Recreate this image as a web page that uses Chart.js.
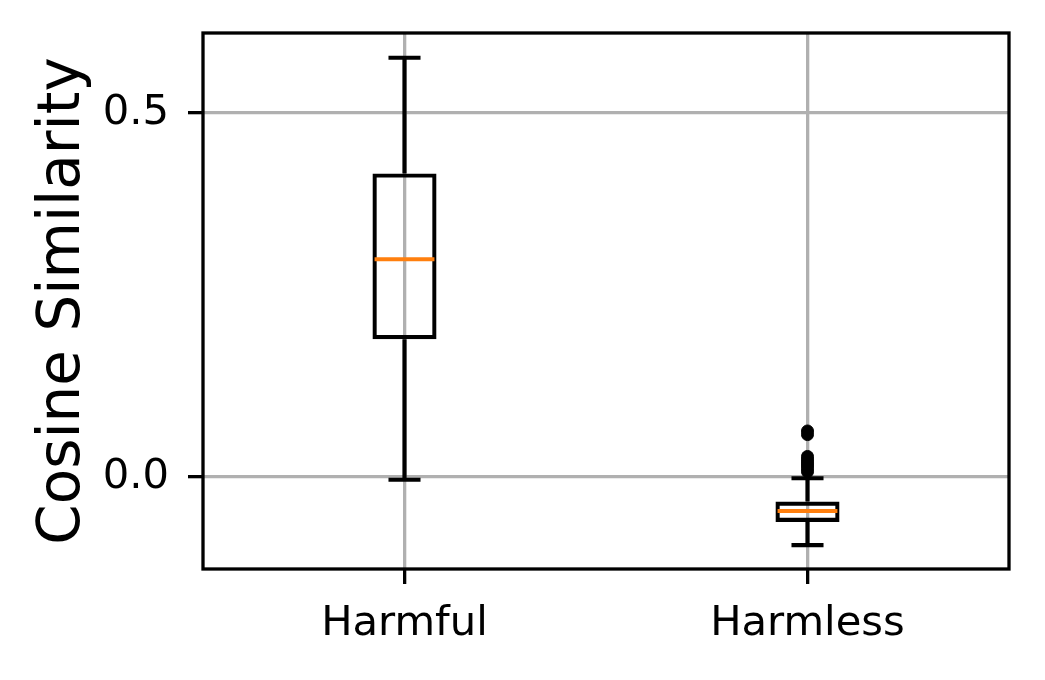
<!DOCTYPE html>
<html>
<head>
<meta charset="utf-8">
<script src="https://cdn.jsdelivr.net/npm/chart.js@4/dist/chart.umd.min.js"></script>
<style>
  html, body { margin: 0; padding: 0; background: #ffffff; }
  #wrap { width: 1045px; height: 680px; position: relative; }
</style>
</head>
<body>
<div id="wrap"><canvas id="c" width="1045" height="680"></canvas></div>
<script>
// ---- data ----
const categories = ['Harmful', 'Harmless'];
const whiskerLow  = [-0.004, -0.094];
const q1Values    = [0.189, -0.062];
const medianVals  = [0.299, -0.047];
const q3Values    = [0.417, -0.034];
const whiskerHigh = [0.576, -0.002];
const outliersHarmful  = [];
const outliersHarmless = [0.063, 0.058, 0.028, 0.024, 0.021, 0.018, 0.015, 0.011, 0.007];
const yTickValues = [0.0, 0.5];
const yMin = -0.1267, yMax = 0.610;

const FONT = 'DejaVu Sans';
const LW = 4.2;

const boxData = categories.map((c, i) => [q1Values[i], q3Values[i]]);
const outlierPoints = []
  .concat(outliersHarmful.map(v => ({x: categories[0], y: v})))
  .concat(outliersHarmless.map(v => ({x: categories[1], y: v})));

const boxPlugin = {
  id: 'boxParts',
  beforeDatasetsDraw(chart) {
    const ctx = chart.ctx, xs = chart.scales.x, ys = chart.scales.y;
    ctx.save();
    ctx.strokeStyle = '#000';
    ctx.lineWidth = LW;
    ctx.lineCap = 'butt';
    categories.forEach((c, i) => {
      const x = xs.getPixelForValue(i);
      const bar = chart.getDatasetMeta(0).data[i];
      const capHalf = bar.width / 4;
      const pLo = ys.getPixelForValue(whiskerLow[i]);
      const pHi = ys.getPixelForValue(whiskerHigh[i]);
      const p1 = ys.getPixelForValue(q1Values[i]);
      const p3 = ys.getPixelForValue(q3Values[i]);
      ctx.beginPath();
      ctx.moveTo(x, p1); ctx.lineTo(x, pLo);
      ctx.moveTo(x, p3); ctx.lineTo(x, pHi);
      ctx.moveTo(x - capHalf, pLo); ctx.lineTo(x + capHalf, pLo);
      ctx.moveTo(x - capHalf, pHi); ctx.lineTo(x + capHalf, pHi);
      ctx.stroke();
    });
    ctx.restore();
  },
  afterDatasetsDraw(chart) {
    const ctx = chart.ctx, xs = chart.scales.x, ys = chart.scales.y;
    ctx.save();
    ctx.strokeStyle = '#ff7f0e';
    ctx.lineWidth = LW;
    categories.forEach((c, i) => {
      const x = xs.getPixelForValue(i);
      const bar = chart.getDatasetMeta(0).data[i];
      const half = bar.width / 2 - LW / 2;
      const pm = ys.getPixelForValue(medianVals[i]);
      ctx.beginPath();
      ctx.moveTo(x - half, pm); ctx.lineTo(x + half, pm);
      ctx.stroke();
    });
    // axes frame (spines)
    const a = chart.chartArea;
    ctx.strokeStyle = '#000';
    ctx.lineWidth = 3.3;
    ctx.strokeRect(a.left, a.top, a.right - a.left, a.bottom - a.top);
    ctx.restore();
  }
};

new Chart(document.getElementById('c'), {
  type: 'bar',
  data: {
    labels: categories,
    datasets: [
      {
        type: 'bar',
        data: boxData,
        backgroundColor: 'rgba(0,0,0,0)',
        borderColor: '#000',
        borderWidth: LW,
        borderSkipped: false,
        barPercentage: 0.159,
        categoryPercentage: 1.0,
        order: 2
      },
      {
        type: 'scatter',
        data: outlierPoints,
        backgroundColor: '#000',
        borderColor: '#000',
        pointRadius: 6,
        pointBorderWidth: 1,
        showLine: false,
        order: 1
      }
    ]
  },
  options: {
    responsive: false,
    animation: false,
    devicePixelRatio: 1,
    layout: { padding: { top: 33, right: 36, bottom: 0, left: 0 } },
    plugins: { legend: { display: false }, tooltip: { enabled: false } },
    scales: {
      x: {
        type: 'category',
        offset: true,
        grid: { display: true, offset: false, color: '#b0b0b0', lineWidth: 3.3,
                drawTicks: true, tickLength: 15, tickColor: '#000', tickWidth: 3.3 },
        border: { display: false },
        ticks: { color: '#000', font: { family: FONT, size: 41.7 }, padding: 15 },
        afterFit(scale) { scale.height = 111; scale.paddingLeft = 0; scale.paddingRight = 0; }
      },
      y: {
        type: 'linear',
        min: yMin, max: yMax,
        grid: { display: true, color: '#b0b0b0', lineWidth: 3.3,
                drawTicks: true, tickLength: 15, tickColor: '#000', tickWidth: 3.3 },
        border: { display: false },
        afterBuildTicks(scale) { scale.ticks = yTickValues.map(v => ({ value: v })); },
        ticks: { color: '#000', font: { family: FONT, size: 41.7 }, padding: 19,
                 callback: (v) => Number(v).toFixed(1) },
        title: { display: true, text: 'Cosine Similarity', color: '#000',
                 font: { family: FONT, size: 58, lineHeight: 1.2 }, padding: { top: 29, bottom: 0 } },
        afterFit(scale) { scale.width = 203; scale.paddingTop = 0; scale.paddingBottom = 0; }
      }
    }
  },
  plugins: [boxPlugin]
});
</script>
</body>
</html>
